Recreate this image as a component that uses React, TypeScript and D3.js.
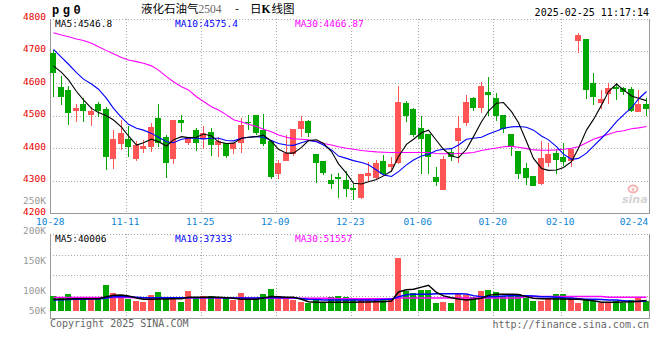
import * as d3 from 'd3';
import React, { useEffect, useRef } from 'react';

// daily K data, 10-28 .. 02-25
const opens = [4693, 4590, 4580, 4515, 4537, 4503, 4537, 4521, 4368, 4413, 4429, 4366, 4398, 4405, 4494, 4436, 4366, 4487, 4415, 4456, 4428, 4450, 4410, 4415, 4398, 4415, 4482, 4503, 4456, 4421, 4321, 4362, 4383, 4460, 4485, 4383, 4361, 4302, 4313, 4302, 4279, 4248, 4316, 4308, 4361, 4343, 4356, 4539, 4520, 4462, 4444, 4313, 4272, 4390, 4423, 4479, 4556, 4525, 4575, 4556, 4503, 4444, 4393, 4338, 4316, 4289, 4354, 4385, 4372, 4362, 4731, 4737, 4602, 4541, 4567, 4590, 4587, 4583, 4513, 4537];
const highs = [4702, 4624, 4592, 4537, 4554, 4526, 4544, 4528, 4456, 4487, 4469, 4421, 4426, 4477, 4537, 4442, 4487, 4503, 4436, 4462, 4469, 4463, 4434, 4417, 4417, 4492, 4503, 4503, 4506, 4425, 4364, 4441, 4461, 4500, 4486, 4383, 4362, 4321, 4325, 4331, 4290, 4321, 4359, 4364, 4379, 4372, 4592, 4545, 4525, 4500, 4445, 4341, 4376, 4400, 4500, 4564, 4557, 4605, 4621, 4569, 4503, 4444, 4393, 4356, 4316, 4421, 4417, 4397, 4415, 4397, 4754, 4737, 4633, 4580, 4600, 4600, 4590, 4590, 4580, 4554];
const lows = [4559, 4533, 4472, 4482, 4482, 4469, 4496, 4333, 4335, 4395, 4374, 4362, 4385, 4390, 4405, 4310, 4352, 4451, 4410, 4393, 4399, 4376, 4374, 4369, 4383, 4385, 4456, 4440, 4407, 4305, 4305, 4360, 4376, 4434, 4434, 4292, 4318, 4274, 4248, 4251, 4241, 4245, 4297, 4305, 4318, 4328, 4353, 4480, 4435, 4321, 4321, 4284, 4271, 4362, 4356, 4470, 4515, 4508, 4500, 4485, 4446, 4376, 4304, 4287, 4285, 4287, 4343, 4321, 4346, 4341, 4695, 4552, 4534, 4520, 4537, 4549, 4564, 4513, 4513, 4500];
const closes = [4633, 4559, 4510, 4524, 4515, 4516, 4515, 4373, 4429, 4448, 4405, 4410, 4408, 4467, 4417, 4356, 4487, 4477, 4434, 4417, 4446, 4410, 4421, 4376, 4417, 4472, 4480, 4446, 4413, 4313, 4354, 4385, 4460, 4485, 4448, 4356, 4323, 4290, 4304, 4274, 4271, 4321, 4325, 4356, 4320, 4352, 4543, 4498, 4441, 4428, 4374, 4297, 4367, 4374, 4464, 4544, 4523, 4592, 4564, 4498, 4459, 4405, 4321, 4308, 4285, 4369, 4382, 4364, 4359, 4397, 4749, 4580, 4559, 4551, 4587, 4584, 4572, 4516, 4537, 4521];
const volumes = [57900, 47800, 64200, 47800, 47800, 44000, 47800, 98000, 68000, 59000, 45000, 37700, 34000, 60000, 71700, 47800, 47800, 34000, 75500, 54000, 58000, 58000, 47800, 47800, 41500, 68000, 45000, 45000, 64000, 83000, 47800, 47800, 41500, 34000, 31500, 44000, 31500, 54000, 58000, 54000, 48000, 48000, 48000, 48000, 44000, 48000, 200000, 75000, 67000, 79000, 79000, 31000, 35000, 31000, 64000, 60000, 54000, 75000, 79000, 72000, 58000, 64000, 64000, 50000, 39000, 39000, 50000, 64000, 64000, 50000, 31000, 44000, 39000, 31000, 31000, 39000, 31000, 41500, 51600, 37700];

// moving averages as shown on the chart
const ma5 = [4654, 4634, 4611, 4575, 4549, 4523, 4510, 4500, 4487, 4465, 4438, 4410, 4417, 4428, 4420, 4407, 4426, 4436, 4433, 4434, 4444, 4438, 4420, 4415, 4416, 4431, 4434, 4436, 4441, 4421, 4397, 4385, 4385, 4403, 4424, 4426, 4415, 4390, 4352, 4323, 4292, 4290, 4297, 4304, 4315, 4330, 4375, 4412, 4428, 4448, 4456, 4424, 4397, 4376, 4371, 4397, 4436, 4482, 4515, 4539, 4541, 4513, 4479, 4421, 4369, 4338, 4332, 4333, 4341, 4359, 4400, 4456, 4489, 4533, 4575, 4598, 4580, 4561, 4554, 4547];
const ma10 = [4705, 4680, 4659, 4633, 4613, 4598, 4582, 4554, 4523, 4495, 4474, 4462, 4456, 4446, 4434, 4420, 4417, 4428, 4431, 4431, 4429, 4431, 4431, 4424, 4423, 4431, 4434, 4436, 4434, 4424, 4415, 4410, 4409, 4417, 4424, 4420, 4410, 4395, 4376, 4369, 4362, 4356, 4349, 4333, 4318, 4313, 4328, 4349, 4364, 4376, 4382, 4393, 4397, 4399, 4410, 4428, 4431, 4434, 4444, 4453, 4462, 4466, 4467, 4465, 4456, 4438, 4426, 4405, 4382, 4366, 4369, 4385, 4407, 4431, 4453, 4482, 4503, 4525, 4552, 4575];
const ma30 = [4756, 4749, 4744, 4737, 4732, 4724, 4713, 4701, 4691, 4680, 4672, 4667, 4662, 4654, 4641, 4621, 4605, 4590, 4580, 4559, 4544, 4528, 4518, 4503, 4488, 4481, 4474, 4467, 4459, 4451, 4441, 4434, 4429, 4428, 4426, 4421, 4415, 4410, 4405, 4400, 4397, 4393, 4391, 4389, 4388, 4387, 4387, 4387, 4387, 4387, 4387, 4384, 4383, 4383, 4384, 4385, 4387, 4393, 4397, 4401, 4405, 4406, 4403, 4399, 4395, 4394, 4394, 4395, 4397, 4400, 4405, 4417, 4428, 4436, 4443, 4451, 4454, 4460, 4463, 4467];
const volMa5 = [44000, 44000, 45000, 46500, 46500, 46500, 46500, 54000, 59000, 60000, 57000, 49000, 44000, 44000, 45000, 45000, 46500, 46500, 51600, 51600, 51600, 53000, 51600, 50000, 48000, 44000, 44000, 44000, 49000, 55000, 54000, 51600, 51600, 44000, 35000, 32700, 32700, 32700, 32700, 32700, 32700, 34000, 34000, 35000, 35000, 37700, 72000, 80000, 82000, 90000, 97000, 70000, 57000, 50000, 45000, 41500, 44000, 48000, 59000, 63000, 63000, 63000, 62000, 54000, 48000, 46500, 46500, 45000, 45000, 44000, 44000, 41500, 39000, 32700, 32700, 32700, 34000, 35000, 37000, 40006];
const volMa10 = [41500, 42000, 43000, 44000, 44000, 45000, 45000, 49000, 54000, 55000, 54000, 51600, 50000, 50000, 50000, 50000, 50000, 50000, 50000, 50000, 50000, 50000, 50000, 49000, 49000, 49000, 49000, 49000, 50000, 50000, 50000, 50000, 50000, 46500, 44000, 43000, 41500, 41500, 41500, 41500, 41500, 41500, 41500, 41500, 43000, 44000, 54000, 61600, 63000, 63000, 63000, 65000, 65000, 65000, 65000, 64000, 58000, 54000, 54000, 55000, 56600, 58000, 58000, 58000, 56600, 54000, 54000, 51600, 50000, 49000, 46500, 44000, 44000, 43000, 41500, 41500, 39000, 36500, 36000, 37333];
const volMa30 = [50500, 50500, 50500, 50500, 50600, 50600, 50600, 50600, 50500, 50500, 50500, 50000, 50000, 50000, 50000, 50000, 50000, 50000, 50000, 50000, 50000, 50000, 50000, 50000, 50000, 50000, 48500, 48500, 48500, 48500, 48500, 48500, 48500, 48500, 48500, 48500, 48500, 48500, 46000, 46000, 46000, 46000, 46000, 46000, 46000, 46000, 49000, 49000, 49000, 49000, 49000, 49000, 49000, 49000, 49000, 49000, 49000, 49000, 49000, 49000, 49000, 49000, 49000, 54500, 54500, 54500, 54500, 54500, 54500, 54500, 54500, 54500, 54500, 54500, 51600, 51600, 51600, 51600, 51600, 51557];

// last values shown in the legends
const priceLegend = ['MA5:4546.8', 'MA10:4575.4', 'MA30:4466.87'];
const volLegend = ['MA5:40006', 'MA10:37333', 'MA30:51557'];

const xTicks = [
  { day: 0, label: '10-28' },
  { day: 10, label: '11-11' },
  { day: 20, label: '11-25' },
  { day: 30, label: '12-09' },
  { day: 40, label: '12-23' },
  { day: 49, label: '01-06' },
  { day: 59, label: '01-20' },
  { day: 68, label: '02-10' },
  { day: 78, label: '02-24' },
];
const priceTicks = [4800, 4700, 4600, 4500, 4400, 4300, 4200];
const volTicks = [250000, 200000, 150000, 100000, 50000];

const RED = '#ff5555';
const GREEN = '#00a800';
const MA_COLORS = ['#000000', '#0000ff', '#ff00ff'];
const MONO = '"DejaVu Sans Mono", monospace';

const KChart: React.FC = () => {
  const svgRef = useRef<SVGSVGElement>(null);

  useEffect(() => {
    const svg = d3.select(svgRef.current);
    svg.selectAll('*').remove();

    const left = 50;
    const right = 650;
    const top = 19;
    const bottom = 213.5;
    const vTop = 234;
    const vBottom = 318.5;

    // Define Scales
    const x = d3
      .scaleBand<number>()
      .domain(d3.range(closes.length))
      .range([left, right])
      .paddingInner(0.2)
      .paddingOuter(0.1);
    const y = d3.scaleLinear().domain([4200, 4800]).range([213.2, 18.5]);
    const yVol = d3.scaleLinear().domain([0, 200000]).range([311, 258]);
    const volLabelY = d3.scaleLinear().domain([0, 250000]).range([351, 201]);
    const volGrid = d3.scaleLinear().domain([0, 4]).range([vTop, 316]);
    const cx = (i: number) => Math.floor(x(i) as number);

    // Grid
    const grid = svg.append('g').attr('stroke', '#aaa').attr('stroke-dasharray', '1,2').attr('shape-rendering', 'crispEdges');
    grid
      .selectAll('.hgrid')
      .data(priceTicks.slice(1, -1))
      .join('line')
      .attr('x1', left)
      .attr('x2', right)
      .attr('y1', (d) => Math.round(y(d)) + 0.5)
      .attr('y2', (d) => Math.round(y(d)) + 0.5);
    grid
      .selectAll('.vgrid')
      .data([1, 2, 3])
      .join('line')
      .attr('x1', left)
      .attr('x2', right)
      .attr('y1', (d) => Math.round(volGrid(d)) + 0.5)
      .attr('y2', (d) => Math.round(volGrid(d)) + 0.5);
    xTicks.slice(1, -1).forEach((t) => {
      const gx = Math.round(x(t.day) as number) + 0.5;
      grid.append('line').attr('x1', gx).attr('x2', gx).attr('y1', top).attr('y2', bottom);
      grid.append('line').attr('x1', gx).attr('x2', gx).attr('y1', vTop).attr('y2', vBottom);
    });
    [top + 0.5, vTop + 0.5].forEach((yy) =>
      grid.append('line').attr('x1', left).attr('x2', right).attr('y1', yy).attr('y2', yy),
    );

    // Frame
    const frame = svg.append('g').attr('stroke', '#999').attr('fill', 'none').attr('shape-rendering', 'crispEdges');
    frame.append('path').attr('d', `M${left + 0.5},${top}V${bottom}H${right}M${right - 0.5},${top}V${bottom}`);
    frame.append('path').attr('d', `M${left + 0.5},${vTop}V${vBottom}H${right}M${right - 0.5},${vTop}V${vBottom}`);

    // Watermark
    const wm = svg.append('g');
    wm.append('ellipse').attr('cx', 633).attr('cy', 189).attr('rx', 4.5).attr('ry', 3.5).attr('fill', 'none').attr('stroke', '#f4b4b4').attr('stroke-width', 2);
    wm.append('circle').attr('cx', 633).attr('cy', 189.5).attr('r', 1.5).attr('fill', '#f4b4b4');
    wm.append('text')
      .attr('x', 622)
      .attr('y', 203)
      .attr('font-family', '"DejaVu Sans", sans-serif')
      .attr('font-style', 'italic')
      .attr('font-weight', 'bold')
      .attr('font-size', 11)
      .attr('fill', '#d4d4d4')
      .text('sina');

    const up = (i: number) => closes[i] >= opens[i];

    // Candles
    const candles = svg
      .append('g')
      .attr('shape-rendering', 'crispEdges')
      .selectAll('g')
      .data(d3.range(closes.length))
      .join('g')
      .attr('fill', (i) => (up(i) ? RED : GREEN));
    candles
      .append('rect')
      .attr('x', (i) => cx(i) + 3)
      .attr('width', 1)
      .attr('y', (i) => y(highs[i]))
      .attr('height', (i) => Math.max(1, y(lows[i]) - y(highs[i])));
    candles
      .append('rect')
      .attr('x', (i) => cx(i))
      .attr('width', 6)
      .attr('y', (i) => y(Math.max(opens[i], closes[i])))
      .attr('height', (i) => Math.max(1, Math.abs(y(opens[i]) - y(closes[i]))));

    // Volume bars
    svg
      .append('g')
      .attr('shape-rendering', 'crispEdges')
      .selectAll('rect')
      .data(volumes)
      .join('rect')
      .attr('x', (_, i) => cx(i))
      .attr('width', 6)
      .attr('y', (d) => Math.round(yVol(d)))
      .attr('height', (d) => 311 - Math.round(yVol(d)))
      .attr('fill', (_, i) => (up(i) ? RED : GREEN));

    // MA lines
    const priceLine = d3
      .line<number>()
      .x((_, i) => cx(i) + 3.5)
      .y((d) => y(d));
    const volLine = d3
      .line<number>()
      .x((_, i) => cx(i) + 3.5)
      .y((d) => yVol(d));
    const series = [
      { p: ma30, v: volMa30, color: MA_COLORS[2] },
      { p: ma10, v: volMa10, color: MA_COLORS[1] },
      { p: ma5, v: volMa5, color: MA_COLORS[0] },
    ];
    svg
      .selectAll('.ma')
      .data(series)
      .join('path')
      .attr('class', 'ma')
      .attr('fill', 'none')
      .attr('stroke', (d) => d.color)
      .attr('stroke-width', 1.1)
      .attr('d', (d) => priceLine(d.p));
    svg
      .selectAll('.vma')
      .data(series)
      .join('path')
      .attr('class', 'vma')
      .attr('fill', 'none')
      .attr('stroke', (d) => d.color)
      .attr('stroke-width', 1.5)
      .attr('d', (d) => volLine(d.v));

    // Axis labels
    svg
      .selectAll('.py')
      .data(priceTicks)
      .join('text')
      .attr('class', 'py')
      .attr('x', 46)
      .attr('y', (d) => y(d) - 2)
      .attr('dy', '0.36em')
      .attr('text-anchor', 'end')
      .attr('font-family', MONO)
      .attr('font-size', 9.5)
      .attr('fill', '#e60000')
      .text((d) => d);
    svg
      .selectAll('.vy')
      .data(volTicks)
      .join('text')
      .attr('class', 'vy')
      .attr('x', 46)
      .attr('y', (d) => Math.min(volLabelY(d), 311))
      .attr('dy', '0.36em')
      .attr('text-anchor', 'end')
      .attr('font-family', MONO)
      .attr('font-size', 9.5)
      .attr('fill', '#999')
      .text((d) => `${d / 1000}K`);
    svg
      .selectAll('.xl')
      .data(xTicks)
      .join('text')
      .attr('class', 'xl')
      .attr('x', (d) => Math.min((x(d.day) as number) - 0.5, right - 16))
      .attr('y', 221.5)
      .attr('dy', '0.36em')
      .attr('text-anchor', 'middle')
      .attr('font-family', MONO)
      .attr('font-size', 9.5)
      .attr('fill', '#0b84d6')
      .text((d) => d.label);

    // Legends
    const legendX = [55, 175, 295];
    [
      { yy: 24, items: priceLegend },
      { yy: 238.5, items: volLegend },
    ].forEach(({ yy, items }) =>
      items.forEach((t, k) =>
        svg
          .append('text')
          .attr('x', legendX[k])
          .attr('y', yy)
          .attr('dy', '0.36em')
          .attr('font-family', MONO)
          .attr('font-size', 9.5)
          .attr('fill', MA_COLORS[k])
          .text(t),
      ),
    );

    // Header
    svg
      .append('text')
      .attr('x', 52)
      .attr('y', 14)
      .attr('font-family', '"Liberation Mono", monospace')
      .attr('font-weight', 'bold')
      .attr('font-size', 12)
      .attr('letter-spacing', 3.6)
      .attr('fill', '#000')
      .text('pg0');
    const title = svg
      .append('text')
      .attr('x', 141)
      .attr('y', 12.5)
      .attr('font-family', '"Noto Sans CJK SC", sans-serif')
      .attr('font-size', 11.5)
      .attr('fill', '#000');
    title.append('tspan').text('液化石油气');
    title
      .append('tspan')
      .attr('font-family', '"Liberation Serif", serif')
      .attr('font-size', 11.5)
      .attr('fill', '#666')
      .text('2504');
    title.append('tspan').attr('x', 235).text('-');
    title.append('tspan').attr('x', 250).text('日');
    title.append('tspan').attr('font-weight', 'bold').attr('font-family', '"Liberation Serif", serif').text('K');
    title.append('tspan').attr('dx', 1).text('线图');
    svg
      .append('text')
      .attr('x', 649)
      .attr('y', 12)
      .attr('dy', '0.36em')
      .attr('text-anchor', 'end')
      .attr('font-family', MONO)
      .attr('font-size', 10)
      .attr('fill', '#000')
      .text('2025-02-25 11:17:14');

    // Footer
    svg
      .append('text')
      .attr('x', 50)
      .attr('y', 323.5)
      .attr('dy', '0.36em')
      .attr('font-family', MONO)
      .attr('font-size', 10)
      .attr('fill', '#666')
      .text('Copyright 2025 SINA.COM');
    svg
      .append('text')
      .attr('x', 649)
      .attr('y', 324)
      .attr('dy', '0.36em')
      .attr('text-anchor', 'end')
      .attr('font-family', MONO)
      .attr('font-size', 10)
      .attr('fill', '#666')
      .text('http://finance.sina.com.cn');
  }, []);

  return (
    <div style={{ position: 'absolute', left: 0, top: 0, width: 660, height: 360, background: '#fff' }}>
      <svg ref={svgRef} width={660} height={360} />
    </div>
  );
};

export default function App() {
  return <KChart />;
}
